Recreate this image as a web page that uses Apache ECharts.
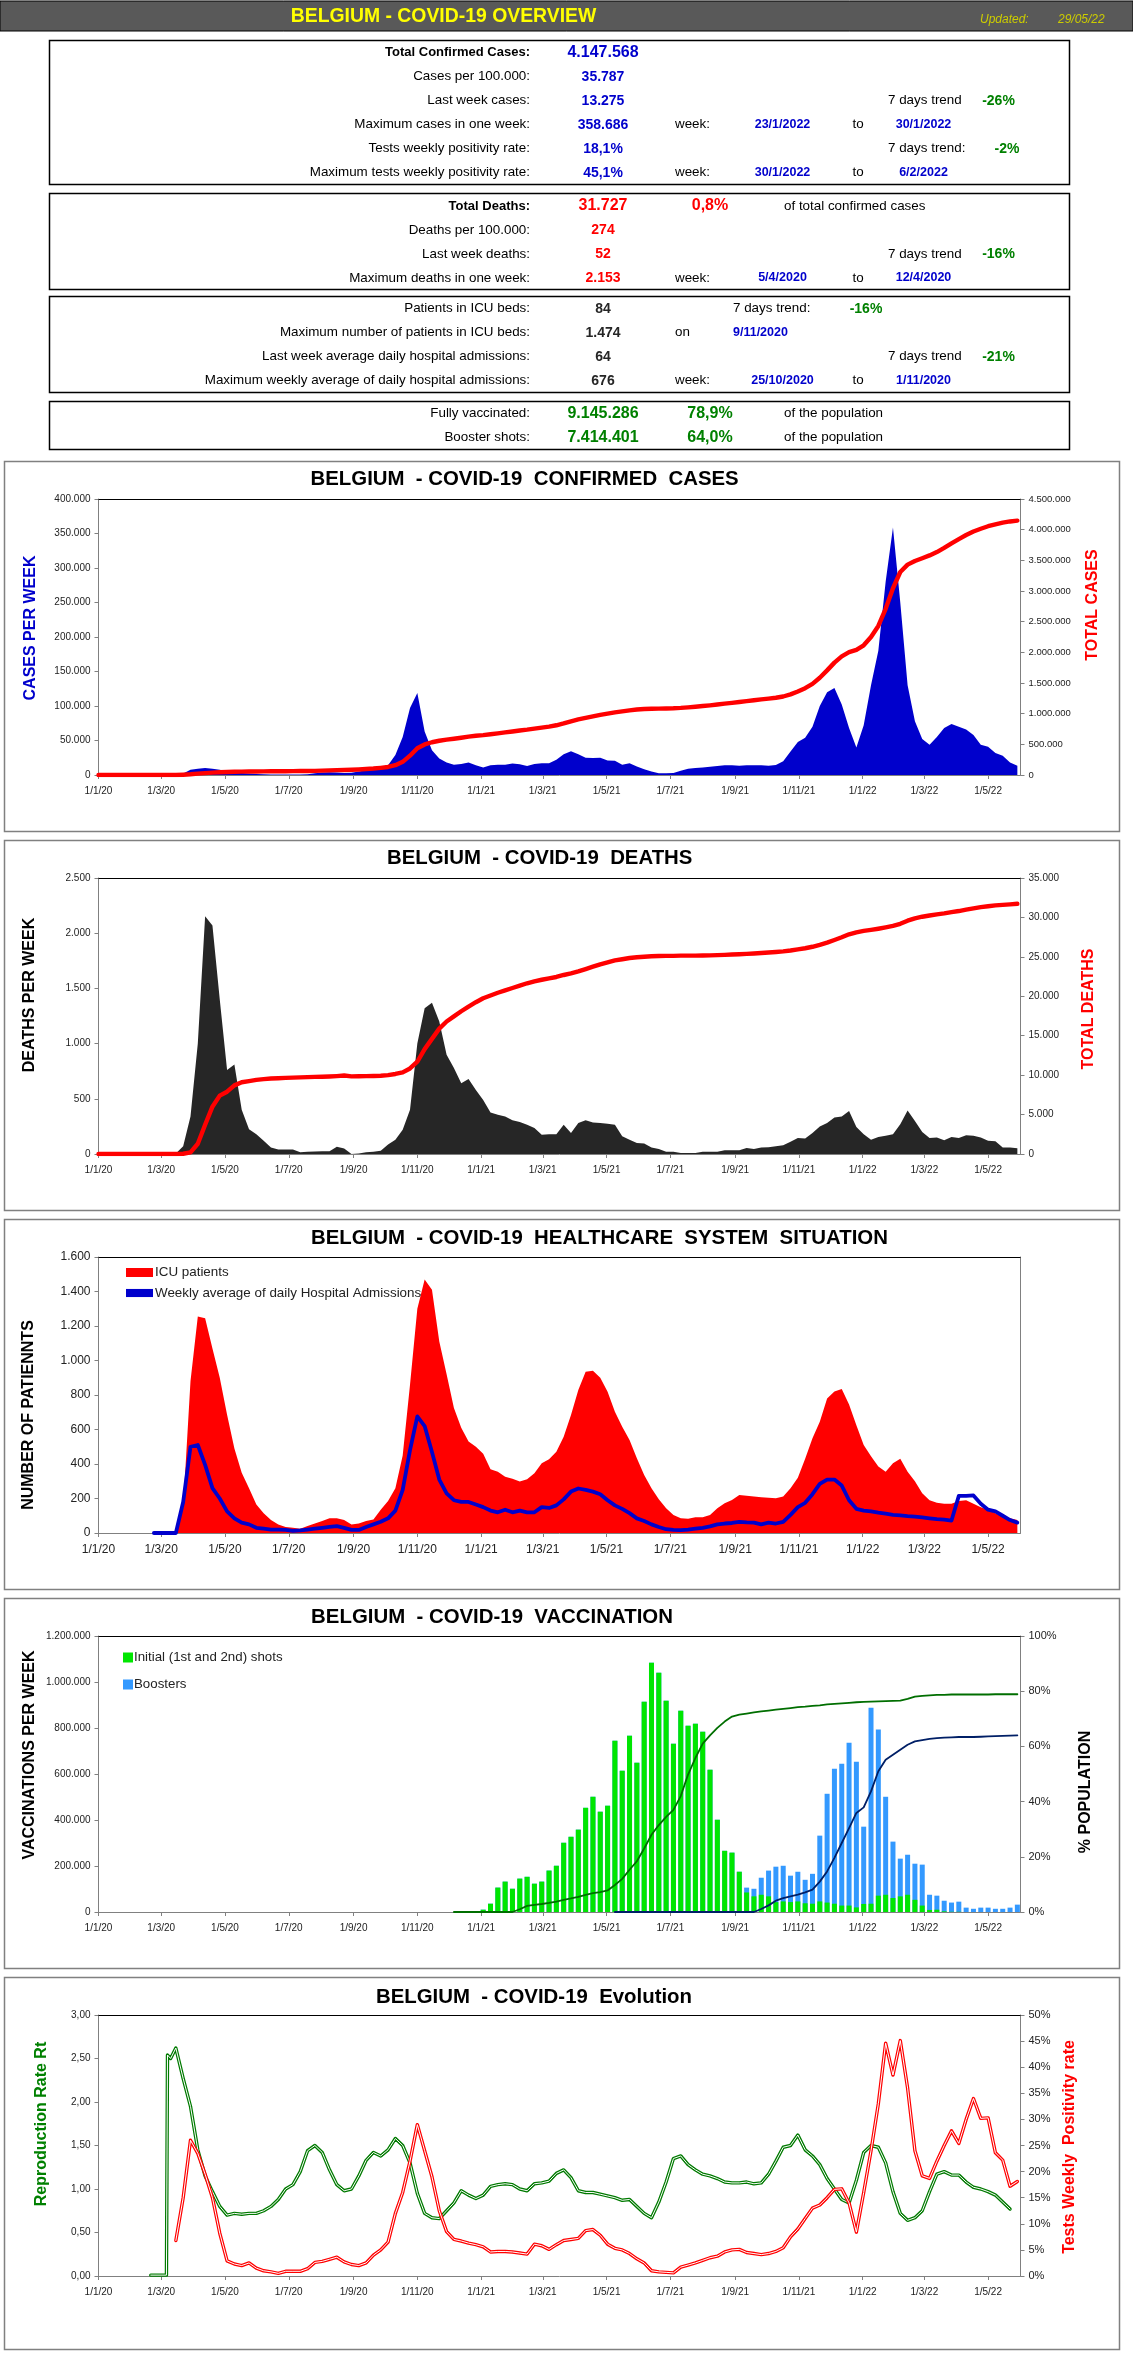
<!DOCTYPE html>
<html>
<head>
<meta charset="utf-8">
<title>Belgium - COVID-19 overview</title>
<script src="https://cdn.jsdelivr.net/npm/echarts@6/dist/echarts.min.js"></script>
<style>
  html, body { margin: 0; padding: 0; background: #fff; }
  #main { width: 1133px; height: 2367px; }
</style>
</head>
<body>
<div id="main"></div>
<script>
var tickDates = ['2020-01-01','2020-03-01','2020-05-01','2020-07-01','2020-09-01','2020-11-01','2021-01-01','2021-03-01','2021-05-01','2021-07-01','2021-09-01','2021-11-01','2022-01-01','2022-03-01','2022-05-01'];
var tickLabels = ['1/1/20','1/3/20','1/5/20','1/7/20','1/9/20','1/11/20','1/1/21','1/3/21','1/5/21','1/7/21','1/9/21','1/11/21','1/1/22','1/3/22','1/5/22'];

var casesPerWeek = [
  0,0,0,0,0,0,0,0,0,100,
  1000,2000,7500,9000,10000,9000,7500,5000,4000,3000,
  2000,1500,1200,900,800,800,700,900,1200,2500,
  3500,4000,3500,3000,3200,5000,7000,8500,12000,14000,
  29000,55000,97000,119000,63000,36000,24000,18000,15000,16000,
  18000,14000,11000,14000,15000,15000,16500,15500,13000,16000,
  17000,17000,22000,30000,34500,30000,25000,24500,25000,21000,
  20500,15000,17000,12500,8500,5000,2500,2500,3000,6000,
  9000,10000,11000,12000,13000,14000,14000,13500,14000,14000,
  14000,13500,14500,20000,34000,48000,54000,70000,100000,120000,
  126000,102000,68000,40000,72000,130000,180000,280000,358686,250000,
  130000,78000,52000,44000,55000,68000,74000,70000,66000,58000,
  44000,41000,32000,28000,18000,13275
];
var totalCases = [
  0,0,0,0,0,0,0,0,0,0,
  0,5000,12000,22000,30000,38000,44000,48000,52000,55000,
  56000,58000,59000,60000,61000,62000,63000,64000,65000,68000,
  72000,76000,79000,82000,85000,90000,97000,105000,117000,131000,
  160000,215000,315000,435000,498000,534000,558000,576000,591000,607000,
  625000,639000,650000,664000,679000,694000,710000,726000,739000,755000,
  772000,789000,811000,841000,876000,906000,931000,956000,981000,1002000,
  1022000,1037000,1054000,1067000,1075000,1080000,1083000,1085000,1088000,1094000,
  1103000,1113000,1124000,1136000,1149000,1163000,1177000,1190000,1204000,1218000,
  1232000,1246000,1260000,1280000,1314000,1362000,1416000,1486000,1586000,1706000,
  1832000,1934000,2002000,2040000,2115000,2250000,2430000,2710000,3045000,3310000,
  3430000,3490000,3535000,3580000,3635000,3703000,3777000,3847000,3913000,3971000,
  4015000,4056000,4088000,4116000,4134000,4147568
];
var deathsPerWeek = [
  0,0,0,0,0,0,0,0,0,0,
  5,70,340,1000,2153,2070,1400,760,810,400,
  225,180,120,60,40,40,40,15,20,22,
  25,25,65,50,0,5,15,20,30,85,
  130,220,400,1000,1320,1370,1200,900,780,640,
  680,580,490,375,355,340,305,290,265,235,
  175,180,180,265,190,280,305,285,280,275,
  265,160,130,100,95,60,45,20,20,8,
  8,8,20,20,20,35,35,35,55,45,
  60,62,70,80,110,145,140,190,250,280,
  330,340,390,245,180,130,155,165,180,270,
  395,300,200,145,150,125,155,145,170,165,
  150,120,115,60,60,52
];
var totalDeaths = [
  0,0,0,0,0,0,0,0,0,0,
  0,30,200,1300,3700,6000,7400,7900,8700,9100,
  9250,9400,9500,9570,9610,9650,9690,9720,9750,9780,
  9800,9830,9880,9950,9850,9860,9880,9900,9930,10000,
  10150,10350,10850,11700,13300,14600,15900,16800,17450,18100,
  18700,19250,19750,20100,20450,20750,21050,21350,21650,21900,
  22100,22280,22450,22700,22900,23150,23450,23750,24050,24300,
  24550,24700,24850,24950,25020,25070,25100,25130,25130,25150,
  25150,25160,25170,25190,25220,25250,25290,25330,25380,25430,
  25490,25550,25620,25700,25810,25950,26090,26280,26530,26810,
  27140,27480,27860,28110,28290,28420,28570,28740,28920,29190,
  29590,29890,30090,30240,30390,30510,30670,30810,30980,31150,
  31300,31420,31535,31595,31655,31727
];

// icu starts on week 10, admissions on week 7
var icuFirstWeek = 10;
var icuPatients = [
  0,150,880,1255,1245,1070,900,685,490,350,
  260,165,115,75,50,35,30,25,40,55,
  70,85,85,75,50,55,70,78,135,185,
  260,450,860,1300,1470,1410,1110,920,725,610,
  530,500,460,370,355,326,315,298,311,346,
  404,427,471,558,684,829,935,940,900,819,
  703,616,539,433,336,259,195,143,104,85,
  83,91,91,104,143,172,191,220,216,211,
  207,205,201,211,259,320,430,550,645,780,
  820,835,745,625,510,445,385,355,405,430,
  355,300,230,190,175,170,170,185,190,170,
  150,135,115,95,85,75
];
var admissionsFirstWeek = 7;
var hospitalAdmissions = [
  0,0,0,0,180,500,510,395,260,200,
  125,85,60,50,30,25,20,20,18,12,
  15,20,25,30,35,40,30,18,18,35,
  50,65,85,130,250,480,676,620,470,310,
  230,190,180,180,165,150,130,120,135,120,
  130,120,120,150,145,160,195,240,258,250,
  240,225,190,160,140,115,85,70,50,35,
  22,18,17,20,25,30,38,50,55,58,
  65,62,60,50,60,55,65,105,150,175,
  225,285,310,310,275,190,140,130,125,118,
  112,105,102,98,95,90,85,80,78,72,
  215,215,218,170,135,125,100,75,60
];

// vaccination bars start on week 52, lines later on
var barsFirstWeek = 52;
var initialShots = [
  10000,36000,106000,132000,101000,145000,153000,123000,132000,180000,
  201000,301000,327000,358000,453000,501000,436000,462000,745000,614000,
  766000,649000,914000,1084000,1040000,918000,732000,875000,810000,818000,
  784000,618000,401000,266000,258000,175000,85000,68000,75000,68000,
  43000,46000,43000,46000,38000,36000,46000,41000,36000,28000,
  28000,20000,35000,36000,71000,75000,61000,68000,75000,53000,
  28000,9000,10000,3000,1000,1000,0,0,0,0,
  0,0,0,0
];
var boosterShots = [
  0,0,0,0,0,0,0,0,0,0,
  0,0,0,0,0,0,0,0,0,0,
  0,0,0,0,0,0,0,0,0,0,
  0,0,0,0,0,0,21000,33000,74000,112000,
  154000,155000,115000,129000,102000,130000,286000,473000,587000,617000,
  708000,633000,336000,852000,722000,426000,245000,164000,174000,157000,
  178000,66000,61000,46000,40000,44000,19000,14000,19000,19000,
  14000,14000,19000,32000
];
var vaccinatedFirstWeek = 48;
var vaccinatedPct = [
  0,0,0,0,0,0,0,0,0,1,
  2.2,2.6,2.9,3.3,3.8,4.4,4.9,5.5,6.2,6.8,
  7.2,7.8,9.8,12,15.3,18.4,23,28,31.5,34.5,
  37,42,49.8,55.8,61,64,66.7,69,70.8,71.5,
  71.9,72.3,72.7,73,73.3,73.6,73.9,74.2,74.4,74.7,
  74.9,75.2,75.4,75.6,75.8,76,76.1,76.2,76.3,76.4,
  76.5,76.6,77.2,78,78.3,78.5,78.7,78.7,78.8,78.8,
  78.8,78.8,78.8,78.8,78.9,78.9,78.9,78.9
];
var boostedFirstWeek = 70;
var boostedPct = [
  0,0,0,0,0,0,0,0,0,0,
  0,0,0,0,0,0,0,0,0,0,
  1.1,2.4,4.1,5,5.7,6.3,7.1,8.1,11,14.7,
  19.6,25,30.4,35.9,37.9,43.7,51,55.2,57,58.8,
  60.6,61.8,62.3,62.7,63,63.2,63.3,63.4,63.4,63.4,
  63.5,63.6,63.7,63.8,63.9,64
];

// Rt: the flat start and the jump are dated, weekly from week 10 on
var rtStart = [['2020-02-20',0.01],['2020-03-06',0.01],['2020-03-07',2.54],['2020-03-10',2.5]];
var rtFirstWeek = 10;
var reproductionRate = [
  2.62,2.27,1.95,1.45,1.15,0.97,0.8,0.7,0.72,0.71,
  0.72,0.72,0.75,0.8,0.88,1,1.05,1.2,1.44,1.5,
  1.42,1.22,1.05,0.98,1,1.15,1.33,1.42,1.38,1.45,
  1.58,1.5,1.3,0.95,0.72,0.67,0.66,0.75,0.84,0.98,
  0.93,0.89,0.93,1.03,1.05,1.06,1.05,1,0.98,1.06,
  1.07,1.09,1.18,1.22,1.13,0.98,0.96,0.96,0.94,0.92,
  0.9,0.87,0.88,0.8,0.72,0.67,0.85,1.08,1.35,1.38,
  1.28,1.22,1.17,1.15,1.12,1.08,1.07,1.07,1.08,1.06,
  1.07,1.17,1.32,1.48,1.5,1.62,1.45,1.38,1.28,1.12,
  1,0.88,0.84,1.1,1.42,1.5,1.48,1.3,0.97,0.72,
  0.64,0.67,0.75,0.97,1.17,1.2,1.16,1.16,1.08,1.02,
  1,0.97,0.93,0.85,0.77
];
var positivityFirstWeek = 10;
var positivityRate = [
  6.8,15,26,23.5,19.5,15,8.2,2.9,2.3,2,
  2.5,1.5,1,0.8,0.5,0.9,0.9,0.9,1.4,2.6,
  2.8,3.2,3.6,2.7,2.2,2,2.5,4,5,6.5,
  12,16,22,29,24,19,12.5,8.5,7,6.7,
  6.3,6,5.6,4.6,4.7,4.7,4.6,4.4,4.2,6.1,
  5.8,5.1,6,6.8,7,7.2,8.7,8.9,7.8,6.1,
  5.3,5,4.3,3.3,2.5,1,0.8,0.7,0.6,1.7,
  2.1,2.5,3,3.5,3.8,4.6,5,5.1,4.5,4.3,
  4.1,4.3,4.7,5.4,7.5,9,11,13,13.6,15,
  16.6,16.7,14,8.4,16,24,33,44.6,38.5,45.1,
  36,24,19.2,18.7,22,25,27.8,25.4,30,34,
  30.2,30.3,23.6,22.2,17.2,18.1
];

var chartTitles = [
  'BELGIUM  - COVID-19  CONFIRMED  CASES',
  'BELGIUM  - COVID-19  DEATHS',
  'BELGIUM  - COVID-19  HEALTHCARE  SYSTEM  SITUATION',
  'BELGIUM  - COVID-19  VACCINATION',
  'BELGIUM  - COVID-19  Evolution'
];

// overview table
var casesRows = [
  {label:'Total Confirmed Cases:', value:'4.147.568', head:true},
  {label:'Cases per 100.000:', value:'35.787'},
  {label:'Last week cases:', value:'13.275', trend:'7 days trend', change:'-26%'},
  {label:'Maximum cases in one week:', value:'358.686', from:'23/1/2022', to:'30/1/2022'},
  {label:'Tests weekly positivity rate:', value:'18,1%', trend:'7 days trend:', change:'-2%', shifted:true},
  {label:'Maximum tests weekly positivity rate:', value:'45,1%', from:'30/1/2022', to:'6/2/2022'}
];
var deathsRows = [
  {label:'Total Deaths:', value:'31.727', head:true, share:'0,8%', note:'of total confirmed cases'},
  {label:'Deaths per 100.000:', value:'274'},
  {label:'Last week deaths:', value:'52', trend:'7 days trend', change:'-16%'},
  {label:'Maximum deaths in one week:', value:'2.153', from:'5/4/2020', to:'12/4/2020'}
];
var icuRows = [
  {label:'Patients in ICU beds:', value:'84', nearTrend:'7 days trend:', nearChange:'-16%'},
  {label:'Maximum number of patients in ICU beds:', value:'1.474', on:'9/11/2020'},
  {label:'Last week average daily hospital admissions:', value:'64', trend:'7 days trend', change:'-21%'},
  {label:'Maximum weekly average of daily hospital admissions:', value:'676', from:'25/10/2020', to:'1/11/2020'}
];
var vaccineRows = [
  {label:'Fully vaccinated:', value:'9.145.286', share:'78,9%', note:'of the population'},
  {label:'Booster shots:', value:'7.414.401', share:'64,0%', note:'of the population'}
];

var RED = '#ff0000', BLUE = '#0000cc', GREEN = '#008000', DARK = '#262626', AXIS_GRAY = '#808080';
var SANS = '"Liberation Sans", Arial, sans-serif';

var plotTops = [499, 878, 1257, 1636, 2015];
var plotBottoms = [775, 1154, 1533, 1912, 2276];
var panelTops = [461, 840, 1219, 1598, 1977];
var panelBottoms = [831, 1210, 1589, 1968, 2349];
var PLOT_LEFT = 98.5, PLOT_RIGHT = 1020.5;

function day(text) {
  var p = text.split('-');
  return new Date(+p[0], +p[1] - 1, +p[2]).getTime();
}

// Sundays, from 5/1/2020 to 29/5/2022
function weekDate(k) {
  return new Date(2020, 0, 5 + 7 * k).getTime();
}

function weekly(values, firstWeek) {
  return values.map(function (v, i) {
    return [weekDate((firstWeek || 0) + i), v];
  });
}

function fromNewYear(values) {
  return [[day('2020-01-01'), 0]].concat(weekly(values));
}

function dotted(v) {
  return String(v).replace(/\B(?=(\d{3})+(?!\d))/g, '.');
}

function percent(v) {
  return v + '%';
}

function comma(v) {
  return v.toFixed(2).replace('.', ',');
}

var tickValues = tickDates.map(day);

// the dates sit on a plain value axis, the ticks are the first of every second month
function xAxisFor(i, size) {
  return {
    type: 'value', gridIndex: i,
    min: day('2020-01-01'), max: day('2022-06-01'),
    axisLine: {onZero: false, lineStyle: {color: AXIS_GRAY, width: 1}},
    axisTick: {customValues: tickValues, length: 4, lineStyle: {color: AXIS_GRAY}},
    axisLabel: {
      customValues: tickValues, color: '#222', fontFamily: SANS, fontSize: size || 10, margin: 11,
      hideOverlap: false,
      formatter: function (v) { return tickLabels[tickValues.indexOf(v)]; }
    },
    splitLine: {show: false}
  };
}

function yAxisFor(i, side, max, interval, formatter, size, bare) {
  return {
    type: 'value', gridIndex: i, position: side, min: 0, max: max, interval: interval,
    axisLine: {show: true, lineStyle: {color: AXIS_GRAY, width: 1}},
    axisTick: {show: !bare, length: 4, lineStyle: {color: AXIS_GRAY}},
    axisLabel: {show: !bare, color: '#222', fontFamily: SANS, fontSize: size || 10, margin: 8, formatter: formatter},
    splitLine: {show: false}
  };
}

var yAxisBase = [0, 2, 4, 6, 8];

function areaSeries(name, i, data, color) {
  return {
    name: name, type: 'line', xAxisIndex: i, yAxisIndex: yAxisBase[i], data: data,
    symbol: 'none', silent: true, z: 2,
    itemStyle: {color: color},
    lineStyle: {width: 0},
    areaStyle: {color: color, opacity: 1}
  };
}

function lineSeries(name, i, onRight, data, color, width, z) {
  return {
    name: name, type: 'line', xAxisIndex: i, yAxisIndex: yAxisBase[i] + (onRight ? 1 : 0), data: data,
    symbol: 'none', silent: true, z: z || 3,
    itemStyle: {color: color},
    lineStyle: {color: color, width: width, join: 'round', cap: 'round'}
  };
}

var grids = plotTops.map(function (top, i) {
  return {left: PLOT_LEFT, width: PLOT_RIGHT - PLOT_LEFT, top: top, height: plotBottoms[i] - top};
});

var xAxes = [xAxisFor(0), xAxisFor(1), xAxisFor(2, 12), xAxisFor(3), xAxisFor(4)];

var yAxes = [
  yAxisFor(0, 'left', 400000, 50000, dotted),
  yAxisFor(0, 'right', 4500000, 500000, dotted, 9.5),
  yAxisFor(1, 'left', 2500, 500, dotted),
  yAxisFor(1, 'right', 35000, 5000, dotted),
  yAxisFor(2, 'left', 1600, 200, dotted, 12),
  yAxisFor(2, 'right', 1600, 200, dotted, 12, true),
  yAxisFor(3, 'left', 1200000, 200000, dotted),
  yAxisFor(3, 'right', 100, 20, percent, 11),
  yAxisFor(4, 'left', 3, 0.5, comma),
  yAxisFor(4, 'right', 50, 5, percent, 11)
];

var rtData = rtStart.map(function (p) { return [day(p[0]), p[1]]; }).concat(weekly(reproductionRate, rtFirstWeek));
var positivityData = weekly(positivityRate, positivityFirstWeek);

// echarts stacks on the first numeric dimension of a value axis, so the boosters
// are drawn as the weekly total with the initial shots laid over their foot
var allShots = boosterShots.map(function (b, i) { return b + initialShots[i]; });

var series = [
  areaSeries('Cases per week', 0, fromNewYear(casesPerWeek), BLUE),
  lineSeries('Total cases', 0, true, fromNewYear(totalCases), RED, 4.4),
  areaSeries('Deaths per week', 1, fromNewYear(deathsPerWeek), DARK),
  lineSeries('Total deaths', 1, true, fromNewYear(totalDeaths), RED, 4.4),
  areaSeries('ICU patients', 2, weekly(icuPatients, icuFirstWeek), RED),
  lineSeries('Weekly average of daily Hospital Admissions', 2, false, weekly(hospitalAdmissions, admissionsFirstWeek), BLUE, 3.8),
  {
    name: 'Boosters', type: 'bar', xAxisIndex: 3, yAxisIndex: 6, barWidth: 5, barGap: '-100%',
    data: weekly(allShots, barsFirstWeek), itemStyle: {color: '#3399ff'}, silent: true
  },
  {
    name: 'Initial (1st and 2nd) shots', type: 'bar', xAxisIndex: 3, yAxisIndex: 6, barWidth: 5, barGap: '-100%',
    data: weekly(initialShots, barsFirstWeek), itemStyle: {color: '#00e600'}, silent: true
  },
  lineSeries('Fully vaccinated %', 3, true, weekly(vaccinatedPct, vaccinatedFirstWeek), '#006e00', 1.8),
  lineSeries('Booster %', 3, true, weekly(boostedPct, boostedFirstWeek), '#001f66', 1.8),
  // double lines, a white core over a coloured line
  lineSeries('Reproduction rate', 4, false, rtData, '#007a00', 3.4, 3),
  lineSeries('Reproduction rate core', 4, false, rtData, '#ffffff', 1, 4),
  lineSeries('Positivity rate', 4, true, positivityData, RED, 3.4, 5),
  lineSeries('Positivity rate core', 4, true, positivityData, '#ffffff', 1, 6)
];

var titles = chartTitles.map(function (text, i) {
  return {
    text: text, left: [524.6, 539.7, 599.4, 492, 534][i], top: [479, 858, 1238, 1617, 1997][i],
    textAlign: 'center', textVerticalAlign: 'middle', padding: 0,
    textStyle: {fontFamily: SANS, fontWeight: 'bold', fontSize: 20.4, color: '#000'}
  };
});

var legends = [
  {
    left: 126, top: 1266, padding: 0, orient: 'vertical', itemWidth: 27, itemHeight: 9, itemGap: 7.5, selectedMode: false,
    textStyle: {fontFamily: SANS, fontSize: 13.4, color: '#222', padding: [0, 0, 0, -3]},
    data: [
      {name: 'ICU patients', icon: 'rect'},
      {name: 'Weekly average of daily Hospital Admissions', icon: 'path://M0,35H100V65H0Z'}
    ]
  },
  {
    left: 123, top: 1651, padding: 0, orient: 'vertical', itemWidth: 10, itemHeight: 10, itemGap: 14, selectedMode: false,
    textStyle: {fontFamily: SANS, fontSize: 13.3, color: '#222', padding: [0, 0, 0, -4]},
    data: [
      {name: 'Initial (1st and 2nd) shots', icon: 'rect'},
      {name: 'Boosters', icon: 'rect'}
    ]
  }
];

// graphic helpers for the overview table and the frames
function label(text, x, y, align, font, fill) {
  return {type: 'text', silent: true, style: {text: text, x: x, y: y, align: align, verticalAlign: 'middle', font: font, fill: fill}};
}

function box(x, y, w, h, stroke, width) {
  return {type: 'rect', silent: true, shape: {x: x, y: y, width: w, height: h}, style: {fill: null, stroke: stroke, lineWidth: width}};
}

function axisTitle(text, x, y, color, font) {
  return {
    type: 'text', silent: true, x: x, y: y, rotation: Math.PI / 2,
    style: {text: text, x: 0, y: 0, align: 'center', verticalAlign: 'middle', font: font || 'bold 16px ' + SANS, fill: color}
  };
}

var FONT_TEXT = '13.4px ' + SANS, FONT_HEAD = 'bold 13px ' + SANS, FONT_DATE = 'bold 12.5px ' + SANS, FONT_TREND = 'bold 14px ' + SANS;

function tableRows(rows, y0, color, headFont) {
  var out = [];
  rows.forEach(function (r, i) {
    var y = y0 + i * 24;
    out.push(label(r.label, 530, y, 'right', r.head ? FONT_HEAD : FONT_TEXT, '#000'));
    out.push(label(r.value, 603, y, 'center', r.head || r.note ? headFont : FONT_TREND, color));
    if (r.from) {
      out.push(label('week:', 675, y, 'left', FONT_TEXT, '#000'));
      out.push(label(r.from, 782.5, y, 'center', FONT_DATE, BLUE));
      out.push(label('to', 858, y, 'center', FONT_TEXT, '#000'));
      out.push(label(r.to, 923.5, y, 'center', FONT_DATE, BLUE));
    }
    if (r.trend) {
      out.push(label(r.trend, 888, y, 'left', FONT_TEXT, '#000'));
      out.push(label(r.change, r.shifted ? 1007 : 998.5, y, 'center', FONT_TREND, GREEN));
    }
    if (r.nearTrend) {
      out.push(label(r.nearTrend, 733, y, 'left', FONT_TEXT, '#000'));
      out.push(label(r.nearChange, 866, y, 'center', FONT_TREND, GREEN));
    }
    if (r.on) {
      out.push(label('on', 675, y, 'left', FONT_TEXT, '#000'));
      out.push(label(r.on, 733, y, 'left', FONT_DATE, BLUE));
    }
    if (r.share) {
      out.push(label(r.share, 710, y, 'center', headFont, color));
      out.push(label(r.note, 784, y, 'left', FONT_TEXT, '#000'));
    }
  });
  return out;
}

var graphics = [
  {type: 'rect', silent: true, shape: {x: 0, y: 1, width: 1133, height: 30}, style: {fill: '#595959', stroke: '#000', lineWidth: 1}},
  label('BELGIUM - COVID-19 OVERVIEW', 443.5, 17, 'center', 'bold 19.4px ' + SANS, '#ffff00'),
  label('Updated:', 980, 20, 'left', 'italic 12px ' + SANS, '#cccc00'),
  label('29/05/22', 1058, 20, 'left', 'italic 12px ' + SANS, '#cccc00'),
  box(49.5, 40.5, 1020, 144, '#000', 1.5),
  box(49.5, 193.5, 1020, 96, '#000', 1.5),
  box(49.5, 296.5, 1020, 96, '#000', 1.5),
  box(49.5, 401.5, 1020, 48, '#000', 1.5)
];
graphics = graphics
  .concat(tableRows(casesRows, 52.7, BLUE, 'bold 16px ' + SANS))
  .concat(tableRows(deathsRows, 206, RED, 'bold 16px ' + SANS))
  .concat(tableRows(icuRows, 308.7, '#262626', FONT_TREND))
  .concat(tableRows(vaccineRows, 413.7, GREEN, 'bold 16px ' + SANS));

panelTops.forEach(function (top, i) {
  graphics.push(box(4.5, top + 0.5, 1115, panelBottoms[i] - top, AXIS_GRAY, 1.5));
  graphics.push({
    type: 'line', silent: true, z: 10,
    shape: {x1: PLOT_LEFT, y1: plotTops[i] + 0.5, x2: PLOT_RIGHT, y2: plotTops[i] + 0.5},
    style: {stroke: '#000', lineWidth: 1.2}
  });
});

graphics.push(
  axisTitle('CASES PER WEEK', 31, 628, BLUE),
  axisTitle('TOTAL CASES', 1092.5, 605, RED),
  axisTitle('DEATHS PER WEEK', 29.6, 995, '#000'),
  axisTitle('TOTAL DEATHS', 1089, 1009, RED),
  axisTitle('NUMBER OF PATIENNTS', 29, 1415, '#000'),
  axisTitle('VACCINATIONS PER WEEK', 29.6, 1755, '#000'),
  axisTitle('% POPULATION', 1086, 1792, '#000'),
  axisTitle('Reproduction Rate Rt', 41.2, 2124, GREEN),
  axisTitle('Tests Weekly  Positivity rate', 1069.4, 2147, RED)
);

var chart = echarts.init(document.getElementById('main'));
chart.setOption({
  animation: false,
  backgroundColor: '#fff',
  title: titles,
  legend: legends,
  grid: grids,
  xAxis: xAxes,
  yAxis: yAxes,
  series: series,
  graphic: {elements: graphics}
});
</script>
</body>
</html>
